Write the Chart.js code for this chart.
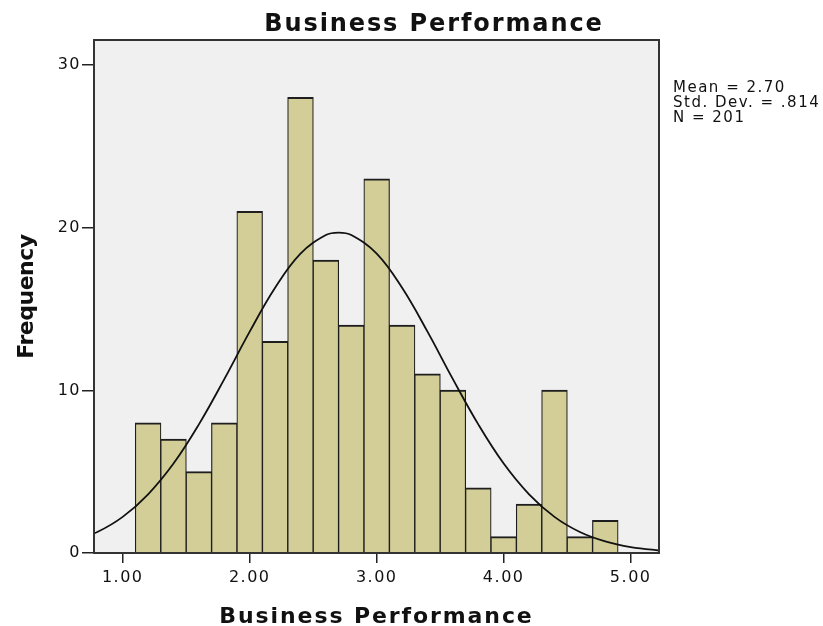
<!DOCTYPE html>
<html>
<head>
<meta charset="utf-8">
<title>Business Performance</title>
<script src="https://cdn.jsdelivr.net/npm/chart.js@4/dist/chart.umd.min.js"></script>
<style>
  html, body { margin: 0; padding: 0; background: #ffffff; }
  canvas { display: block; }
</style>
</head>
<body>
<canvas id="histogram" width="823" height="626"></canvas>
<script>
// Histogram bins (centre of each 0.2-wide bin) and their counts
const binCenters = [1.2, 1.4, 1.6, 1.8, 2.0, 2.2, 2.4, 2.6, 2.8, 3.0, 3.2, 3.4, 3.6, 3.8, 4.0, 4.2, 4.4, 4.6, 4.8];
const frequency  = [8, 7, 5, 8, 21, 13, 28, 18, 14, 23, 14, 11, 10, 4, 1, 3, 10, 1, 2];

// Fitted normal curve, sampled along the x axis
const curveX = [0.6, 0.8, 1.0, 1.2, 1.4, 1.6, 1.8, 2.0, 2.2, 2.4, 2.6, 2.7, 2.8, 3.0, 3.2, 3.4, 3.6, 3.8, 4.0, 4.2, 4.4, 4.6, 4.8, 5.0, 5.2, 5.4];
const curveY = [0.71, 1.29, 2.22, 3.61, 5.50, 7.91, 10.69, 13.61, 16.31, 18.41, 19.55, 19.70, 19.55, 18.41, 16.31, 13.61, 10.69, 7.91, 5.50, 3.61, 2.22, 1.29, 0.71, 0.36, 0.18, 0.08];

// Axis ticks and summary statistics
const xTickValues = [1, 2, 3, 4, 5];
const yTickValues = [0, 10, 20, 30];
const meanValue = '2.70';
const sdValue = '.814';
const nValue = 201;

const titleText = 'Business Performance';
const xAxisTitle = 'Business Performance';
const yAxisTitle = 'Frequency';

const TEXT_COLOR = '#111111';
const FONT = '"DejaVu Sans", "Liberation Sans", Arial, sans-serif';

// Grey plot background, frame, titles and the statistics box
const decorations = {
  id: 'decorations',
  beforeDraw(chart) {
    const { ctx, chartArea: a } = chart;
    ctx.save();
    ctx.fillStyle = '#ffffff';
    ctx.fillRect(0, 0, chart.width, chart.height);
    ctx.fillStyle = '#f0f0f0';
    ctx.fillRect(a.left, a.top, a.right - a.left, a.bottom - a.top);
    ctx.restore();
    // wide tick lettering
    ctx.letterSpacing = '1.5px';
  },
  afterDraw(chart) {
    const { ctx, chartArea: a } = chart;
    ctx.save();
    // frame round the plot
    ctx.strokeStyle = '#333333';
    ctx.lineWidth = 2;
    ctx.strokeRect(a.left, a.top, a.right - a.left, a.bottom - a.top);

    ctx.fillStyle = TEXT_COLOR;
    // chart title
    ctx.letterSpacing = '1.9px';
    ctx.font = 'bold 24px ' + FONT;
    ctx.textAlign = 'center';
    ctx.textBaseline = 'alphabetic';
    ctx.fillText(titleText, 434, 31);

    // x axis title
    ctx.font = 'bold 22px ' + FONT;
    ctx.fillText(xAxisTitle, (a.left + a.right) / 2, 623);

    // y axis title
    ctx.save();
    ctx.letterSpacing = '-0.5px';
    ctx.translate(33, (a.top + a.bottom) / 2);
    ctx.rotate(-Math.PI / 2);
    ctx.fillText(yAxisTitle, 0, 0);
    ctx.restore();

    // statistics
    ctx.letterSpacing = '1.5px';
    ctx.font = '15px ' + FONT;
    ctx.textAlign = 'left';
    const lines = ['Mean = ' + meanValue, 'Std. Dev. = ' + sdValue, 'N = ' + nValue];
    lines.forEach((t, i) => ctx.fillText(t, 673, 92 + i * 15));
    ctx.restore();
  }
};

const barPoints = binCenters.map((x, i) => ({ x: x, y: frequency[i] }));
const curvePoints = curveX.map((x, i) => ({ x: x, y: curveY[i] }));

new Chart(document.getElementById('histogram'), {
  type: 'bar',
  data: {
    datasets: [
      {
        type: 'line',
        data: curvePoints,
        borderColor: '#111111',
        borderWidth: 1.8,
        pointRadius: 0,
        tension: 0.4,
        fill: false,
        order: 0
      },
      {
        type: 'bar',
        data: barPoints,
        backgroundColor: '#d3ce98',
        borderColor: '#1e1e1e',
        borderWidth: { top: 2, left: 1.2, right: 1.2, bottom: 0 },
        borderSkipped: false,
        inflateAmount: 0.5,
        barPercentage: 1,
        categoryPercentage: 1,
        order: 1
      }
    ]
  },
  options: {
    responsive: false,
    animation: false,
    devicePixelRatio: 1,
    layout: { padding: { left: 0, top: 40, right: 164, bottom: 0 } },
    plugins: {
      legend: { display: false },
      tooltip: { enabled: false },
      title: { display: false }
    },
    scales: {
      x: {
        type: 'linear',
        min: 0.774,
        max: 5.223,
        offset: false,
        border: { display: false },
        grid: { offset: false, drawOnChartArea: false, drawTicks: true, tickLength: 10, color: '#222222', lineWidth: 1.5 },
        ticks: {
          color: TEXT_COLOR,
          font: { family: FONT, size: 16 },
          padding: 5,
          maxRotation: 0,
          callback: (v) => Number(v).toFixed(2)
        },
        afterBuildTicks: (scale) => { scale.ticks = xTickValues.map(v => ({ value: v })); },
        afterFit: (scale) => { scale.height = 73; }
      },
      y: {
        type: 'linear',
        min: 0,
        max: 31.54,
        border: { display: false },
        grid: { drawOnChartArea: false, drawTicks: true, tickLength: 12, color: '#222222', lineWidth: 1.5 },
        ticks: {
          color: TEXT_COLOR,
          font: { family: FONT, size: 16 },
          padding: 1,
          callback: (v) => String(v)
        },
        afterBuildTicks: (scale) => { scale.ticks = yTickValues.map(v => ({ value: v })); },
        afterFit: (scale) => { scale.width = 94; }
      }
    }
  },
  plugins: [decorations]
});
</script>
</body>
</html>
